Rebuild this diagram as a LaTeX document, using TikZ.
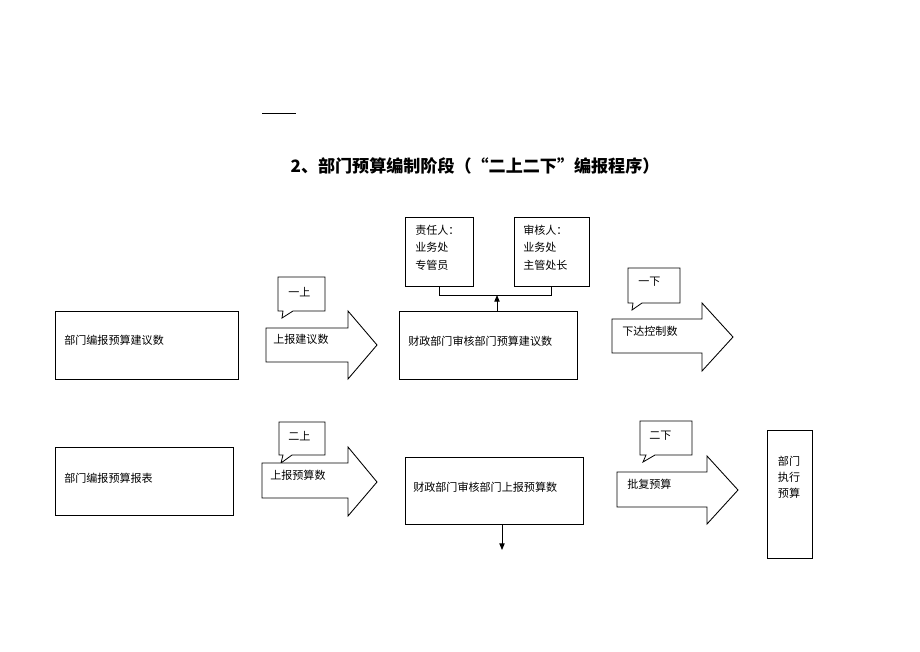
\documentclass[tikz,border=0pt]{standalone}
\usepackage{fontspec}
\usetikzlibrary{fit,arrows.meta}
\setmainfont{Liberation Serif}
\newfontfamily\cjk{Noto Sans CJK SC}
\begin{document}
\begin{tikzpicture}[x=0.75pt,y=-0.75pt,
  box/.style={draw, line width=0.65pt, inner sep=0pt},
  barrow/.style={draw, line width=0.65pt, fill=white},
  callout/.style={draw, line width=0.6pt, fill=white},
  txt/.style={font=\cjk\fontsize{8.3}{13}\selectfont, inner sep=0pt, anchor=west},
  conn/.style={line width=0.7pt},
  tip/.style={-{Triangle[length=5pt,width=4pt]}}]
\useasboundingbox (0,0) rectangle (920,651);
\fill[white] (0,0) rectangle (920,651);
% top rule and title
\draw[line width=0.7pt] (262,113) -- (296,113);
\node[font=\cjk\bfseries\fontsize{12.8}{15}\selectfont, inner sep=0pt] (title) at (475,166) {2、部门预算编制阶段（“二上二下”编报程序）};

% ---------- row 1 ----------
\node[box, fit={(55,311) (238,379)}] (A) {};
\node[txt] (At) at (64,340) {部门编报预算建议数};

\draw[barrow] (266,328) -- (348,328) -- (348,311) -- (377,345) -- (348,379) -- (348,362) -- (266,362) -- cycle;
\node[txt] (a1t) at (273,339) {上报建议数};
\draw[callout] (278,311) -- (278,277) -- (325,277) -- (325,311) -- (293,311) -- (282,318) -- (283,311) -- cycle;
\node[txt] (c1) at (288,292) {一上};

\node[box, fit={(399,311) (577,379)}] (B) {};
\node[txt] (Bt) at (408,341) {财政部门审核部门预算建议数};

\node[box, fit={(405,217) (473,286)}] (R1) {};
\node[txt, anchor=north west, align=left] (R1t) at (415,225) {责任人：\\业务处\\专管员};
\node[box, fit={(514,217) (589,286)}] (R2) {};
\node[txt, anchor=north west, align=left] (R2t) at (523,225) {审核人：\\业务处\\主管处长};
\coordinate (j) at (497,295);
\draw[conn] (R1.south) |- (j) -| (R2.south);
\draw[conn, tip] (B.north -| j) -- (j);

\draw[callout] (628,303) -- (628,268) -- (680,268) -- (680,303) -- (642,303) -- (632,310) -- (633,303) -- cycle;
\node[txt] (c2) at (638,282) {一下};
\draw[barrow] (612,319) -- (702,319) -- (702,303) -- (733,337) -- (702,371) -- (702,353) -- (612,353) -- cycle;
\node[txt] (a2t) at (622,331) {下达控制数};

% ---------- row 2 ----------
\node[box, fit={(55,447) (233,515)}] (C) {};
\node[txt] (Ct) at (64,478) {部门编报预算报表};

\draw[callout] (279,455) -- (279,422) -- (325,422) -- (325,455) -- (292,455) -- (281,463) -- (283,455) -- cycle;
\node[txt] (c3) at (288,436) {二上};
\draw[barrow] (262,463) -- (348,463) -- (348,447) -- (377,482) -- (348,516) -- (348,498) -- (262,498) -- cycle;
\node[txt] (a3t) at (270,475) {上报预算数};

\node[box, fit={(405,457) (583,524)}] (D) {};
\node[txt] (Dt) at (413,487) {财政部门审核部门上报预算数};
\coordinate (dn) at (502,550);
\draw[conn, tip] (D.south -| dn) -- (dn);

\draw[callout] (640,455) -- (640,421) -- (692,421) -- (692,455) -- (655,455) -- (643,462) -- (646,455) -- cycle;
\node[txt] (c4) at (649,436) {二下};
\draw[barrow] (617,472) -- (707,472) -- (707,456) -- (738,490) -- (707,524) -- (707,507) -- (617,507) -- cycle;
\node[txt] (a4t) at (627,484) {批复预算};

\node[box, fit={(767,430) (812,558)}] (E) {};
\node[txt, anchor=north, align=center, font=\cjk\fontsize{8.3}{12}\selectfont] (Et) at (789,456) {部门\\执行\\预算};
\end{tikzpicture}
\end{document}
